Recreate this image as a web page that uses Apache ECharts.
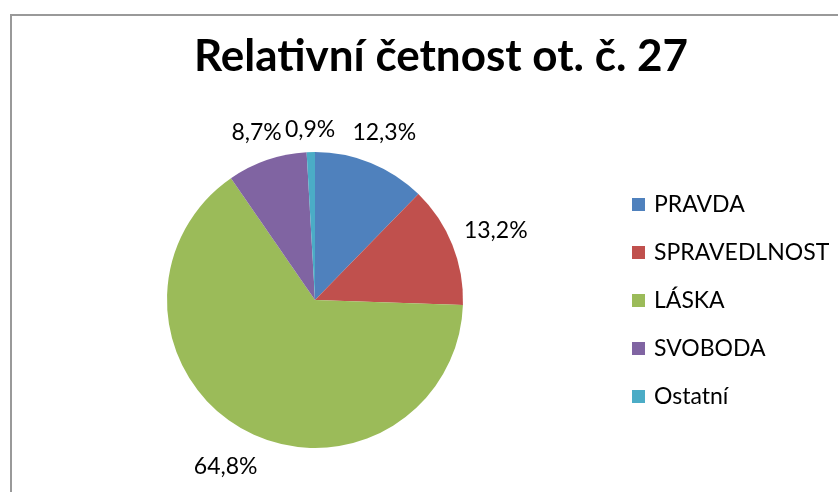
<!DOCTYPE html>
<html>
<head>
<meta charset="utf-8">
<script src="https://cdn.jsdelivr.net/npm/echarts@6/dist/echarts.min.js"></script>
<style>
  html, body { margin: 0; padding: 0; background: #fff; }
  #chart-container { width: 838px; height: 492px; }
</style>
</head>
<body>
<div id="chart-container"></div>
<script>
var dom = document.getElementById('chart-container');
var myChart = echarts.init(dom, null, { renderer: 'canvas' });

// data
const categories = ['PRAVDA', 'SPRAVEDLNOST', 'LÁSKA', 'SVOBODA', 'Ostatní'];
const values = [12.3, 13.2, 64.8, 8.7, 0.9];
const colors = ['#4F81BD', '#C0504D', '#9BBB59', '#8064A2', '#4BACC6'];

// layout
const CX = 315, CY = 300, R = 148;
const FONT = 'Lato, "Open Sans", sans-serif';
const total = values.reduce((s, v) => s + v, 0);

// label placed just outside the slice, like Excel's outside end
function placeLabel(params) {
  const i = params.dataIndex;
  let before = 0;
  for (let k = 0; k < i; k++) before += values[k];
  const mid = (before + values[i] / 2) / total * Math.PI * 2;
  const c = Math.sin(mid), s = -Math.cos(mid);
  const w = params.labelRect.width / 2, h = params.labelRect.height / 2;
  const d = R + 13 + w * Math.abs(c) + h * Math.abs(s);
  return {
    x: CX + d * c,
    y: CY + d * s + 3,
    align: 'center',
    verticalAlign: 'middle'
  };
}

var option = {
  backgroundColor: '#fff',
  animation: false,
  title: {
    text: 'Relativní četnost ot. č. 27',
    left: 436,
    top: 30,
    textAlign: 'center',
    textStyle: { fontFamily: FONT, fontWeight: 'bold', fontSize: 44, color: '#000' }
  },
  legend: {
    orient: 'vertical',
    left: 627,
    top: 188,
    icon: 'rect',
    itemWidth: 13,
    itemHeight: 13,
    itemGap: 25,
    selectedMode: false,
    textStyle: { fontFamily: FONT, fontSize: 23, color: '#000', lineHeight: 23, padding: [0, 0, 0, 4] },
    data: categories
  },
  graphic: [{
    type: 'rect',
    shape: { x: 11, y: 15, width: 900, height: 600 },
    style: { fill: 'none', stroke: '#999', lineWidth: 2 },
    silent: true
  }],
  series: [{
    type: 'pie',
    center: [CX, CY],
    radius: R,
    startAngle: 90,
    clockwise: true,
    color: colors,
    data: categories.map((n, i) => ({ name: n, value: values[i] })),
    label: {
      show: true,
      position: 'outside',
      fontFamily: FONT,
      fontSize: 23,
      color: '#000',
      formatter: p => p.value.toFixed(1).replace('.', ',') + '%'
    },
    labelLine: { show: false },
    labelLayout: placeLabel,
    emphasis: { disabled: true }
  }]
};

myChart.setOption(option);
window.addEventListener('resize', myChart.resize);
</script>
</body>
</html>
